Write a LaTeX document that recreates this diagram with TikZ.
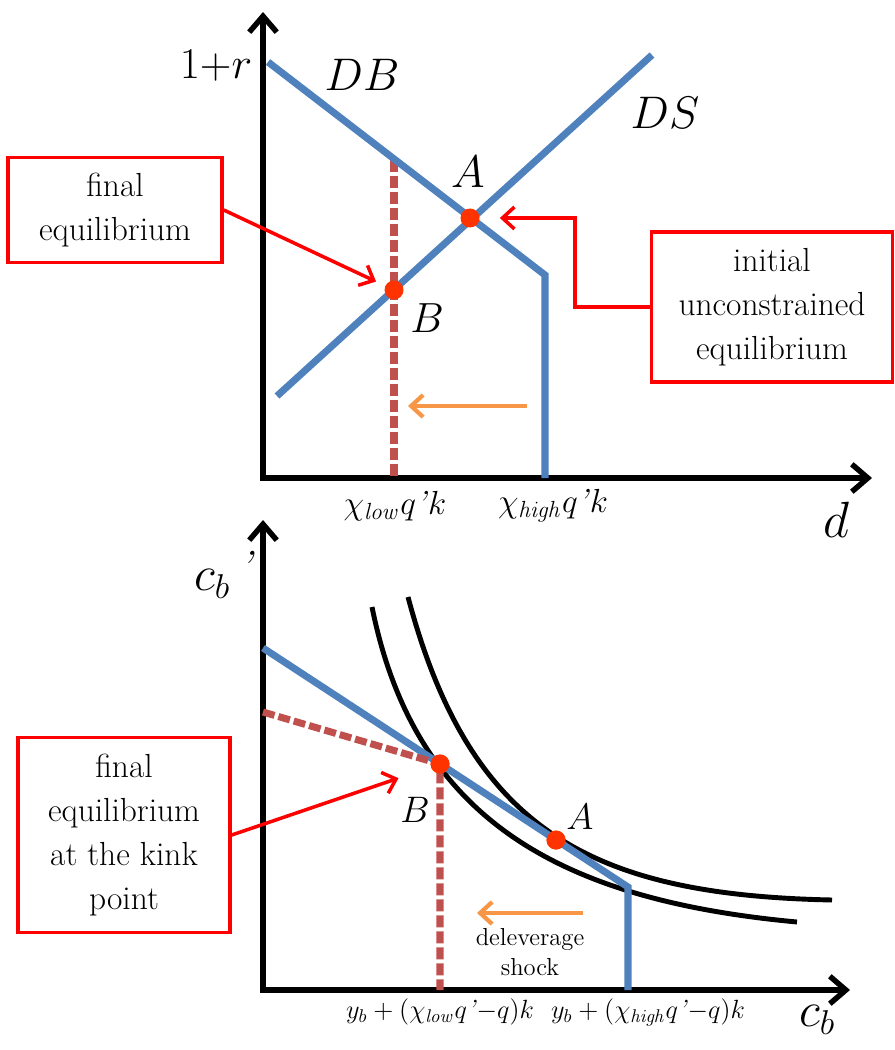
\RequirePackage{fix-cm}
\documentclass[tikz,border=0pt]{standalone}
\usetikzlibrary{arrows.meta,positioning,calc}

\definecolor{lineblue}{HTML}{4F81BD}
\definecolor{darkred}{HTML}{C0504D}
\definecolor{shockorange}{HTML}{F79646}
\definecolor{dotred}{HTML}{FF3300}
\definecolor{boxred}{HTML}{FF0000}

\newcommand{\fsz}[2]{\fontsize{#1}{#2}\selectfont}
\newcommand{\chilab}[1]{$\chi_{\mathit{#1}}q$\textit{'}$k$}
\newcommand{\yblab}[1]{$y_b+(\chi_{\mathit{#1}}q$\textit{'}$-q)k$}

\begin{document}
\begin{tikzpicture}[
    x=0.02cm, y=-0.02cm,
    axisline/.style={line width=3.1pt, -{Straight Barb[length=3.2mm,width=5.5mm]}},
    budget/.style={lineblue, line width=4pt},
    reddash/.style={darkred, line width=4pt, dash pattern=on 0.24cm off 0.08cm},
    indiff/.style={black, line width=2.8pt},
    eqdot/.style={circle, fill=dotred, inner sep=0pt, minimum size=0.38cm},
    callout/.style={draw=boxred, line width=2pt, align=center, fill=white, inner sep=2pt, font=\fsz{19}{25}},
    pointer/.style={boxred, line width=2pt, -{Straight Barb[length=2.4mm,width=4.4mm]}},
    shockarrow/.style={shockorange, line width=2.4pt, -{Straight Barb[length=2.4mm,width=4.4mm]}},
    lab/.style={font=\fsz{26}{30}},
    smalllab/.style={font=\fsz{21}{25}},
    ticklab/.style={font=\fsz{19}{22}},
]
\useasboundingbox (0,0) rectangle (894,1050);

% ================== Debt market (top) ==================
\coordinate (o1) at (263,478);
\coordinate (ytop1) at (263,12);
\coordinate (xend1) at (872,478);
\draw[axisline] ([yshift=-1.5pt]o1) -- (ytop1);
\draw[axisline] ([xshift=-1.5pt]o1) -- (xend1);

\node[font=\fsz{25}{30}] (rlab) at (216,66) {$1{+}r$};
\node[font=\fsz{29}{32}] (dlab) at (836,520) {$d$};
\node[lab] (dblab) at (362,75) {$DB$};
\node[lab] (dslab) at (665,113) {$DS$};

% demand (with kink) and supply
\coordinate (db1) at (268,62);
\coordinate (dbk) at (545,275);
\coordinate (dbe) at (545,478);
\coordinate (ds1) at (277,396);
\coordinate (ds2) at (652,55);
\coordinate (low1) at (394,160);
\coordinate (lowe) at (394,478);

\draw[reddash] (low1) -- (lowe);
\draw[budget] (db1) -- (dbk) -- (dbe);
\draw[budget] (ds1) -- (ds2);

\node[eqdot] (pA) at (470,218) {};
\node[eqdot] (pB) at (394,290) {};
\node[lab] (alab) at (468,172) {$A$};
\node[font=\fsz{24}{28}] (blab) at (427,318) {$B$};

\node[ticklab] (chilow) at (395,506) {\chilab{low}};
\node[ticklab] (chihigh) at (553,506) {\chilab{high}};

% deleverage shift
\coordinate (sh1) at (527,406);
\coordinate (sh2) at (408,406);
\draw[shockarrow] (sh1) -- (sh2);

% callouts
\node[callout, minimum width=4.28cm, minimum height=2.1cm] (finalbox) at (115,210) {final\\equilibrium};
\node[callout, minimum width=4.82cm, minimum height=3cm] (initbox) at (772,307) {initial\\unconstrained\\equilibrium};

\draw[pointer, shorten >=0.2cm] (finalbox.east) -- (pB);
\draw[pointer, shorten >=0.4cm] (initbox.west) -- ++(-75,0) |- (pA);

% ================== Consumption plane (bottom) ==================
\coordinate (o2) at (263,990);
\coordinate (ytop2) at (263,520);
\coordinate (xend2) at (850,990);
\draw[axisline] ([yshift=-1.5pt]o2) -- (ytop2);
\draw[axisline] ([xshift=-1.5pt]o2) -- (xend2);

\node[font=\fsz{28}{32}] (cblab) at (212,584) {$c_b$};
\node[font=\fsz{24}{28}] (cbprime) at (247,566) {\textit{'}};
\node[font=\fsz{28}{32}] (cbx) at (817,1020) {$c_b$};

% budget set and kink
\coordinate (bc1) at (263,648);
\coordinate (bck) at (628,887);
\coordinate (bce) at (628,990);
\coordinate (nb1) at (263,712);
\coordinate (nbe) at (440,990);

% indifference curves
\coordinate (ic1s) at (372,607);
\coordinate (ic1e) at (797,922);
\coordinate (ic2s) at (408,597);
\coordinate (ic2e) at (832,900);

\draw[indiff] (ic1s) .. controls (415,820) and (560,900) .. (ic1e);
\draw[indiff] (ic2s) .. controls (470,830) and (590,895) .. (ic2e);

\node[eqdot] (qB) at (440,764) {};
\node[eqdot] (qA) at (556,840) {};

\draw[budget] (bc1) -- (bck) -- (bce);
\draw[reddash] (nb1) -- (qB.center) -- (nbe);

\node[eqdot] at (qB) {};
\node[eqdot] at (qA) {};

\node[smalllab] (alab2) at (580,817) {$A$};
\node[smalllab] (blab2) at (415,810) {$B$};

\coordinate (sh3) at (583,913);
\coordinate (sh4) at (477,913);
\draw[shockarrow] (sh3) -- (sh4);
\node[align=center, font=\fsz{14}{17}] (shock) at (530,952) {deleverage\\shock};

\node[font=\fsz{15}{18}] (yblow) at (440,1012) {\yblab{low}};
\node[font=\fsz{15}{18}] (ybhigh) at (648,1012) {\yblab{high}};

\node[callout, minimum width=4.24cm, minimum height=3.9cm] (kinkbox) at (124,835) {final\\equilibrium\\at the kink\\point};
\draw[pointer, shorten >=0.68cm] (kinkbox.east) -- (qB);

\end{tikzpicture}
\end{document}
